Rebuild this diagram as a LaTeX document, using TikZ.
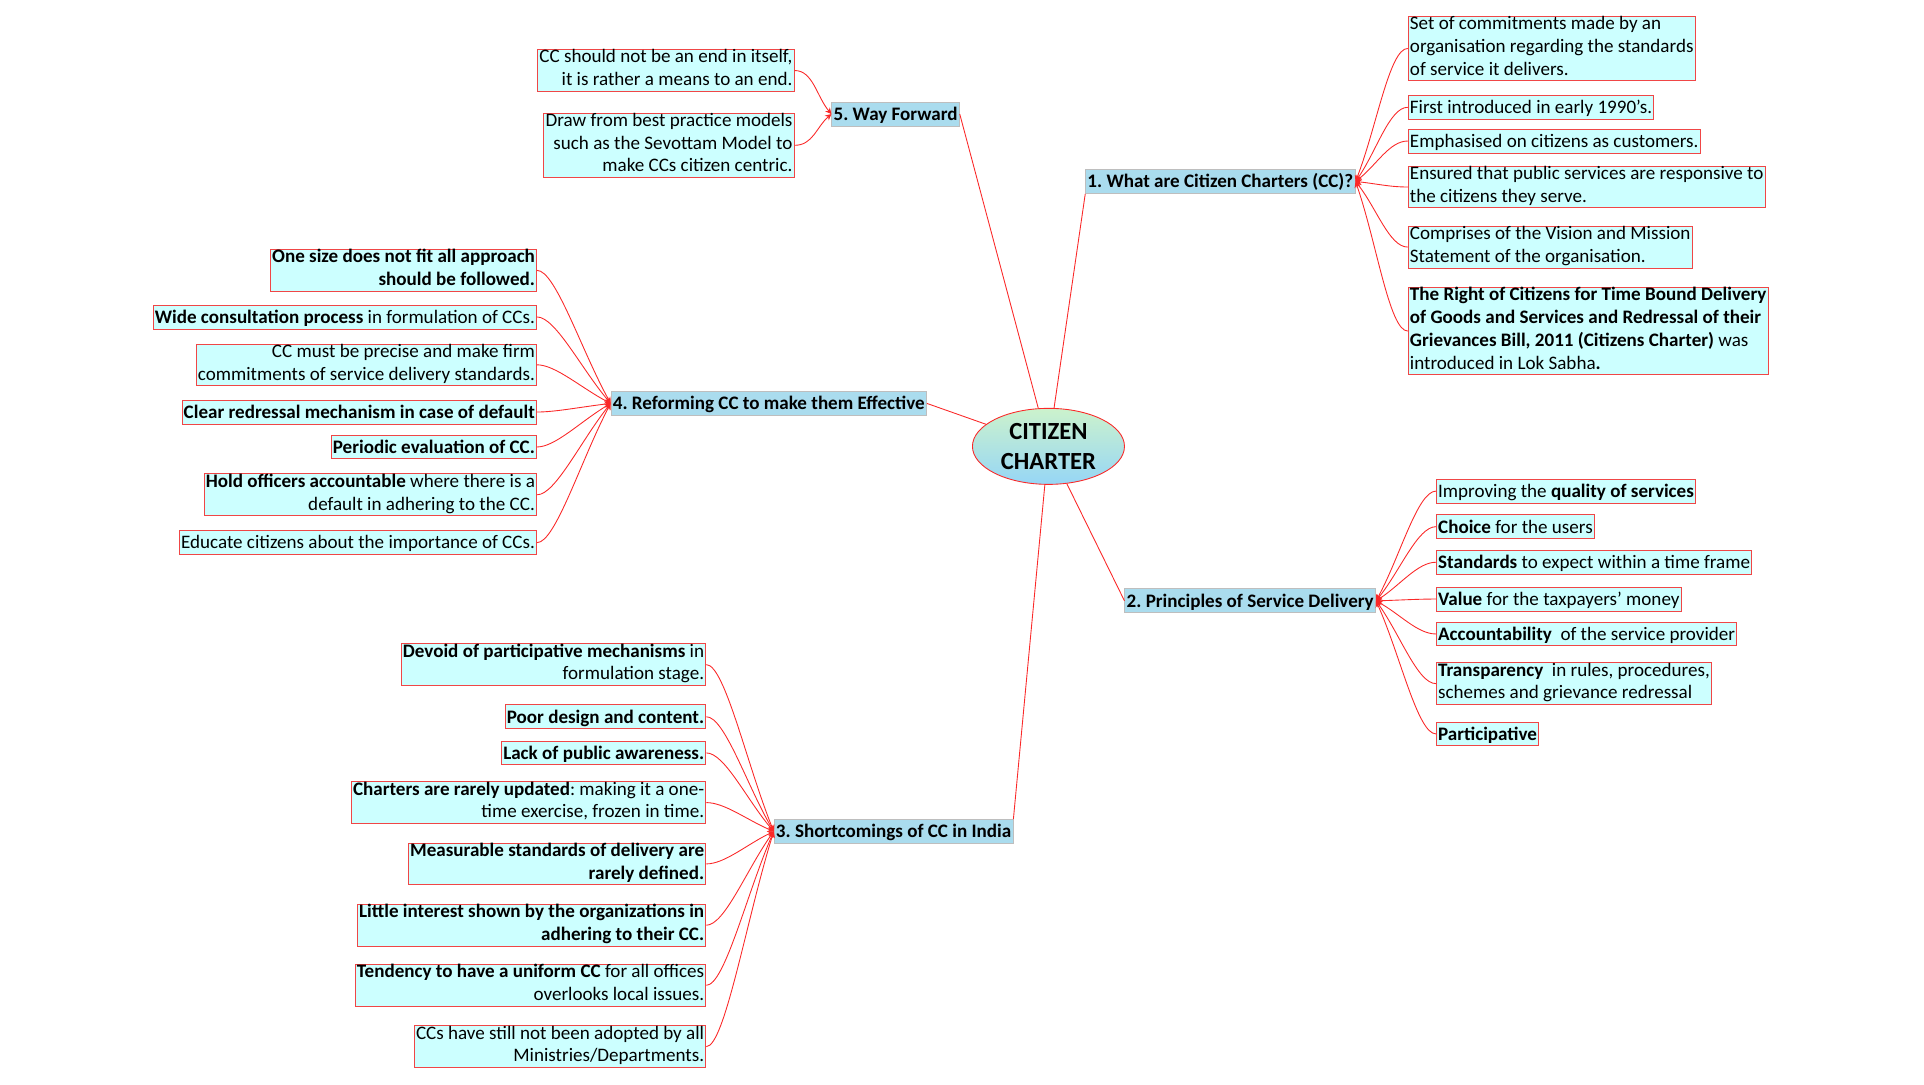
\documentclass[tikz,border=0pt]{standalone}
\usepackage{fontspec}
\setmainfont{Carlito}
\usetikzlibrary{calc,shapes.geometric,arrows.meta}
\definecolor{leafcyan}{RGB}{204,255,255}
\definecolor{leafred}{RGB}{240,70,70}
\definecolor{topicblue}{RGB}{170,220,238}
\definecolor{topicgray}{RGB}{190,190,190}
\definecolor{linkred}{RGB}{250,40,40}
\definecolor{rootgreen}{RGB}{204,242,204}
\definecolor{rootblue}{RGB}{150,214,246}
\newcommand{\leafstrut}{\rule[-3.2pt]{0pt}{13.6pt}}
\tikzstyle{root} = [ellipse, draw=linkred, line width=0.5pt, top color=rootgreen, bottom color=rootblue, minimum width=30.4mm, minimum height=15.2mm, inner sep=0pt, align=center, font=\fontsize{14}{16.7}\selectfont\bfseries]
\tikzstyle{topic} = [rectangle, draw=topicgray, fill=topicblue, line width=0.5pt, inner xsep=1pt, inner ysep=0pt, anchor=west, font=\fontsize{10.85}{13}\selectfont\bfseries, execute at begin node=\leafstrut]
\tikzstyle{leaf} = [rectangle, draw=leafred, fill=leafcyan, line width=0.5pt, inner xsep=1pt, inner ysep=0pt, font=\fontsize{10.85}{13}\selectfont, execute at begin node=\leafstrut, execute at end node=\leafstrut]
\tikzstyle{leafleft} = [leaf, anchor=west, align=left]
\tikzstyle{leafright} = [leaf, anchor=east, align=right]
\tikzstyle{spoke} = [linkred, line width=0.5pt]
\tikzstyle{arrow} = [linkred, line width=0.5pt, ->, >={Stealth[length=3.5pt,width=3.5pt]}]

\begin{document}
\frenchspacing
\begin{tikzpicture}[x=0.2452mm, y=-0.2452mm]
    \useasboundingbox (0,0) rectangle (1569,884);

    \node (cc) [root] at (855,364) {CITIZEN\\CHARTER};

    \node (what) [topic] at (885,148) {1. What are Citizen Charters (CC)?};
    \node (principles) [topic] at (917,490) {2. Principles of Service Delivery};
    \node (short) [topic] at (631,678) {3. Shortcomings of CC in India};
    \node (reform) [topic] at (498,329) {4. Reforming CC to make them Effective};
    \node (way) [topic] at (678,93) {5. Way Forward};

    \draw [spoke] (cc) -- (what.south west);
    \draw [spoke] (cc) -- (principles.west);
    \draw [spoke] (cc) -- (short.north east);
    \draw [spoke] (cc) -- (reform.east);
    \draw [spoke] (cc) -- (way.east);

    % 1. what are citizen charters
    \node (what1) [leafleft] at (1148,39.5) {Set of commitments made by an\\organisation regarding the standards\\of service it delivers.};
    \node (what2) [leafleft] at (1148,87.5) {First introduced in early 1990’s.};
    \node (what3) [leafleft] at (1148,115) {Emphasised on citizens as customers.};
    \node (what4) [leafleft] at (1148,152.5) {Ensured that public services are responsive to\\the citizens they serve.};
    \node (what5) [leafleft] at (1148,201.5) {Comprises of the Vision and Mission\\Statement of the organisation.};
    \node (what6) [leafleft] at (1148,270) {\textbf{The Right of Citizens for Time Bound Delivery}\\\textbf{of Goods and Services and Redressal of their}\\\textbf{Grievances Bill, 2011 (Citizens Charter)} was\\introduced in Lok Sabha\textbf{.}};

    % 2. principles of service delivery
    \node (prin1) [leafleft] at (1171,400.5) {Improving the \textbf{quality of services}};
    \node (prin2) [leafleft] at (1171,429.5) {\textbf{Choice} for the users};
    \node (prin3) [leafleft] at (1171,458.5) {\textbf{Standards} to expect within a time frame};
    \node (prin4) [leafleft] at (1171,488.5) {\textbf{Value} for the taxpayers’ money};
    \node (prin5) [leafleft] at (1171,517) {\textbf{Accountability} \ of the service provider};
    \node (prin6) [leafleft] at (1171,557.5) {\textbf{Transparency} \ in rules, procedures,\\schemes and grievance redressal};
    \node (prin7) [leafleft] at (1171,598.5) {\textbf{Participative}};

    % 3. shortcomings
    \node (short1) [leafright] at (576,542) {\textbf{Devoid of participative mechanisms} in\\formulation stage.};
    \node (short2) [leafright] at (576,584.5) {\textbf{Poor design and content.}};
    \node (short3) [leafright] at (576,614) {\textbf{Lack of public awareness.}};
    \node (short4) [leafright] at (576,654.5) {\textbf{Charters are rarely updated}: making it a one-\\time exercise, frozen in time.};
    \node (short5) [leafright] at (576,704.5) {\textbf{Measurable standards of delivery are}\\\textbf{rarely defined.}};
    \node (short6) [leafright] at (576,754.5) {\textbf{Little interest shown by the organizations in}\\\textbf{adhering to their CC.}};
    \node (short7) [leafright] at (576,803.5) {\textbf{Tendency to have a uniform CC} for all offices\\overlooks local issues.};
    \node (short8) [leafright] at (576,853.5) {CCs have still not been adopted by all\\Ministries/Departments.};

    % 4. reforming
    \node (ref1) [leafright] at (438,220.5) {\textbf{One size does not fit all approach}\\\textbf{should be followed.}};
    \node (ref2) [leafright] at (438,258.5) {\textbf{Wide consultation process} in formulation of CCs.};
    \node (ref3) [leafright] at (438,297.5) {CC must be precise and make firm\\commitments of service delivery standards.};
    \node (ref4) [leafright] at (438,336) {\textbf{Clear redressal mechanism in case of default}};
    \node (ref5) [leafright] at (438,364.5) {\textbf{Periodic evaluation of CC.}};
    \node (ref6) [leafright] at (438,403.5) {\textbf{Hold officers accountable} where there is a\\default in adhering to the CC.};
    \node (ref7) [leafright] at (438,442.5) {Educate citizens about the importance of CCs.};

    % 5. way forward
    \node (way1) [leafright] at (648,57.5) {CC should not be an end in itself,\\it is rather a means to an end.};
    \node (way2) [leafright] at (648,118.5) {Draw from best practice models\\such as the Sevottam Model to\\make CCs citizen centric.};

    \foreach \n in {what1,what2,what3,what4,what5,what6}
        \draw [arrow] (\n.west) .. controls ($(\n.west)+(-15,0)$) and ($(what.east)!0.4!(\n.west)$) .. (what.east);
    \foreach \n in {prin1,prin2,prin3,prin4,prin5,prin6,prin7}
        \draw [arrow] (\n.west) .. controls ($(\n.west)+(-15,0)$) and ($(principles.east)!0.4!(\n.west)$) .. (principles.east);
    \foreach \n in {short1,short2,short3,short4,short5,short6,short7,short8}
        \draw [arrow] (\n.east) .. controls ($(\n.east)+(15,0)$) and ($(short.west)!0.4!(\n.east)$) .. (short.west);
    \foreach \n in {ref1,ref2,ref3,ref4,ref5,ref6,ref7}
        \draw [arrow] (\n.east) .. controls ($(\n.east)+(15,0)$) and ($(reform.west)!0.4!(\n.east)$) .. (reform.west);
    \foreach \n in {way1,way2}
        \draw [arrow] (\n.east) .. controls ($(\n.east)+(15,0)$) and ($(way.west)!0.4!(\n.east)$) .. (way.west);

\end{tikzpicture}
\end{document}
